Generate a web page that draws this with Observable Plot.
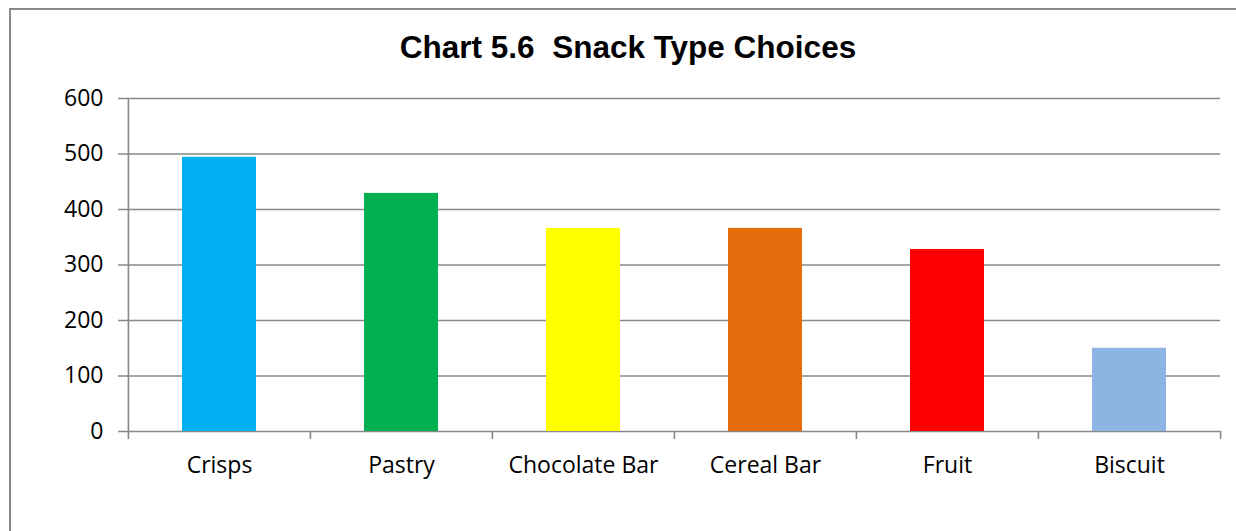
<!DOCTYPE html>
<html>
<head>
<meta charset="utf-8">
<script src="https://cdn.jsdelivr.net/npm/d3@7"></script>
<script src="https://cdn.jsdelivr.net/npm/@observablehq/plot@0.6"></script>
<style>
  html, body { margin: 0; padding: 0; background: #fff; overflow: hidden; }
  #page { position: relative; width: 1236px; height: 531px; overflow: hidden; }
  #border { position: absolute; left: 9px; top: 8px; width: 1260px; height: 560px; border: 2px solid #898989; box-sizing: border-box; }
  #title { position: absolute; left: 0; top: 27px; width: 1256px; text-align: center; font-family: "Liberation Sans", Arial, sans-serif; font-weight: bold; font-size: 31.5px; line-height: 40px; white-space: pre; color: #000; }
  #chart { position: absolute; left: 0; top: 70px; }
</style>
</head>
<body>
<div id="page">
  <div id="border"></div>
  <div id="title">Chart 5.6  Snack Type Choices</div>
  <div id="chart"></div>
</div>
<script>
const categories = ["Crisps", "Pastry", "Chocolate Bar", "Cereal Bar", "Fruit", "Biscuit"];
const values = [494, 429, 366, 366, 328, 150];
const colors = ["#00B0F0", "#00B050", "#FFFF00", "#E46C0A", "#FF0000", "#8EB4E3"];
const yTicks = [0, 100, 200, 300, 400, 500, 600];

const data = categories.map((c, i) => ({category: c, value: values[i], color: colors[i]}));

const width = 1236, height = 461;
const marginLeft = 127, marginRight = 16, marginTop = 28, marginBottom = 100;
const step = (width - marginLeft - marginRight) / categories.length;
const grid = "#898989";
const font = "'Open Sans', sans-serif";

const chart = Plot.plot({
  width, height, marginLeft, marginRight, marginTop, marginBottom,
  style: {background: "transparent", fontFamily: font, fontSize: "23px", color: "#000", overflow: "visible"},
  x: {domain: categories, paddingInner: 0.594, paddingOuter: 0.297, label: null},
  y: {domain: [0, 600], ticks: yTicks, label: null},
  marks: [
    Plot.ruleY(yTicks, {stroke: grid, strokeWidth: 1.6, insetLeft: -9}),
    Plot.barY(data, {x: "category", y: "value", fill: "color"}),
    // y axis line at left edge
    Plot.ruleX([categories[0]], {x: d => d, dx: -step / 2, y1: 0, y2: 600, stroke: grid, strokeWidth: 1.6}),
    // category boundary ticks below the axis
    Plot.ruleX(categories, {x: d => d, dx: -step / 2, y1: 0, y2: 0, insetBottom: -8, stroke: grid, strokeWidth: 1.6}),
    Plot.ruleX([categories[categories.length - 1]], {x: d => d, dx: step / 2, y1: 0, y2: 0, insetBottom: -8, stroke: grid, strokeWidth: 1.6}),
    Plot.axisY({ticks: yTicks, tickSize: 0, tickPadding: 24, fontSize: 23, label: null}),
    Plot.axisX({tickSize: 0, tickPadding: 25, fontSize: 23, label: null})
  ]
});
document.getElementById("chart").appendChild(chart);
</script>
</body>
</html>
